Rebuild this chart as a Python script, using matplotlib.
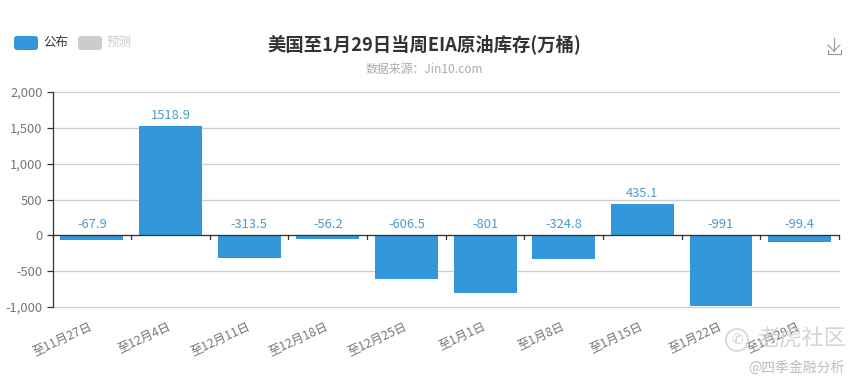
import matplotlib
matplotlib.use("Agg")
import matplotlib.pyplot as plt
from matplotlib.lines import Line2D
from matplotlib.patches import Circle, FancyBboxPatch

plt.rcParams['font.family'] = ['Noto Sans CJK SC', 'DejaVu Sans']

W, H = 861, 389

# Chart data
categories = ["至11月27日", "至12月4日", "至12月11日", "至12月18日", "至12月25日",
              "至1月1日", "至1月8日", "至1月15日", "至1月22日", "至1月29日"]
published = [-67.9, 1518.9, -313.5, -56.2, -606.5, -801, -324.8, 435.1, -991, -99.4]
value_labels = ["-67.9", "1518.9", "-313.5", "-56.2", "-606.5",
                "-801", "-324.8", "435.1", "-991", "-99.4"]
y_ticks = [-1000, -500, 0, 500, 1000, 1500, 2000]
y_tick_labels = ["-1,000", "-500", "0", "500", "1,000", "1,500", "2,000"]

blue = "#3398DB"
label_blue = "#4A9CCB"
grey_text = "#777777"


def px(x, y):
    # pixel position in the image to figure fraction
    return x / W, 1 - y / H


fig = plt.figure(figsize=(W / 100, H / 100), dpi=100)
ax = fig.add_axes([52.5 / W, 1 - 307 / H, (839 - 52.5) / W, (307 - 92) / H])

x = list(range(len(categories)))
ax.bar(x, published, width=0.8, color=blue, zorder=3)
ax.set_xlim(-0.5, len(categories) - 0.5)
ax.set_ylim(-1000, 2000)

# Value labels above the zero line or bar top
for i, v in enumerate(published):
    top = max(v, 0)
    ax.annotate(value_labels[i], (i, top), xytext=(0, 3), textcoords="offset points",
                ha="center", va="bottom", fontsize=9.3, color=label_blue, zorder=4)

ax.set_yticks(y_ticks)
ax.set_yticklabels(y_tick_labels, fontsize=9.3, color=grey_text)
ax.grid(axis="y", color="#CCCCCC", linewidth=0.9, zorder=0)
for line in ax.get_ygridlines():
    line.set_clip_on(False)
ax.tick_params(axis="y", length=4, width=0.9, color="#333333", pad=3)

# x axis line sits on zero, ticks between the categories
for side in ["top", "right", "bottom"]:
    ax.spines[side].set_visible(False)
ax.spines["left"].set_color("#333333")
ax.spines["left"].set_linewidth(0.9)
ax.axhline(0, color="#333333", linewidth=0.9, zorder=5)
ax.set_xticks([])
for i in range(len(categories) + 1):
    ax.plot([i - 0.5, i - 0.5], [0, -55], color="#333333", linewidth=0.9, zorder=5,
            clip_on=False)

for i, name in enumerate(categories):
    ax.annotate(name, (i, -1000), xytext=(-2, -9), textcoords="offset points",
                ha="right", va="top", rotation=25, rotation_mode="anchor",
                fontsize=8.8, color=grey_text, annotation_clip=False)

# Title and subtitle
fig.text(*px(424, 44), "美国至1月29日当周EIA原油库存(万桶)", ha="center", va="center",
         fontsize=13.2, fontweight="bold", color="#333333")
fig.text(*px(424, 69), "数据来源：Jin10.com", ha="center", va="center",
         fontsize=8.6, color="#AAAAAA")

# Legend
for left, colour in [(14, blue), (78, "#CCCCCC")]:
    fig.patches.append(FancyBboxPatch((left, H - 50), 24, 14,
                                      boxstyle="round,pad=0,rounding_size=3",
                                      transform=None, facecolor=colour, edgecolor="none"))
fig.text(*px(43, 42), "公布", ha="left", va="center", fontsize=9, color="#333333")
fig.text(*px(107, 42), "预测", ha="left", va="center", fontsize=9, color="#CCCCCC")

# Download icon
icon = [[(834, 38), (834, 51)], [(828, 45), (834, 51)], [(840, 45), (834, 51)],
        [(827.5, 50), (827.5, 53.5)], [(827.5, 53.5), (840.5, 53.5)], [(840.5, 53.5), (840.5, 50)]]
for p0, p1 in icon:
    fig.add_artist(Line2D([p0[0] / W, p1[0] / W], [1 - p0[1] / H, 1 - p1[1] / H],
                          color="#999999", linewidth=0.8))

# Watermark
fig.add_artist(Circle((737, H - 340), 11, transform=None, fill=False,
                      edgecolor="#D5D5D5", linewidth=1.2))
fig.text(*px(737, 340), "✆", ha="center", va="center", fontsize=10, color="#CFCFCF",
         family=["DejaVu Sans"])
fig.text(*px(846, 339), "老虎社区", ha="right", va="center", fontsize=16, color="#CDCDCD",
         alpha=0.85)
fig.text(*px(845, 368), "@四季金融分析", ha="right", va="center", fontsize=10,
         color="#BDBDBD")

fig.savefig("out.png", dpi=100)
